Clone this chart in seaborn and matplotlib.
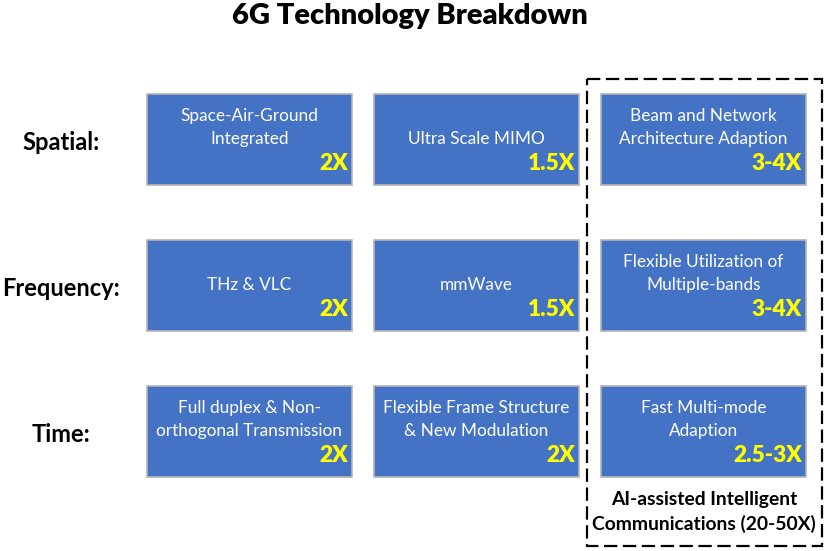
import matplotlib
matplotlib.use("Agg")
import matplotlib.pyplot as plt
from matplotlib.patches import Rectangle
import seaborn as sns

sns.set_theme(style="white")
plt.rcParams['font.family'] = ['Lato', 'DejaVu Sans']

title = "6G Technology Breakdown"
rows = ["Spatial:", "Frequency:", "Time:"]
texts = [
    ["Space-Air-Ground\nIntegrated", "Ultra Scale MIMO", "Beam and Network\nArchitecture Adaption"],
    ["THz & VLC", "mmWave", "Flexible Utilization of\nMultiple-bands"],
    ["Full duplex & Non-\northogonal Transmission", "Flexible Frame Structure\n& New Modulation", "Fast Multi-mode\nAdaption"],
]
gains = [
    ["2X", "1.5X", "3-4X"],
    ["2X", "1.5X", "3-4X"],
    ["2X", "2X", "2.5-3X"],
]
ai_label = "AI-assisted Intelligent\nCommunications (20-50X)"

W, H = 829, 551
fig = plt.figure(figsize=(W / 100, H / 100), dpi=100)
ax = fig.add_axes([0, 0, 1, 1])
ax.set_xlim(0, W)
ax.set_ylim(H, 0)
ax.axis("off")

col_x = [147, 374, 601]
row_y = [94, 240, 386]
bw, bh = 205, 91
blue = "#4472C4"

ax.text(410, 16, title, ha="center", va="center", fontsize=21, fontweight="heavy", color="black")

for r, lab in enumerate(rows):
    ax.text(61, row_y[r] + 48, lab, ha="center", va="center", fontsize=17, fontweight="bold", color="black")
    for c in range(3):
        x0, y0 = col_x[c], row_y[r]
        ax.add_patch(Rectangle((x0, y0), bw, bh, facecolor=blue, edgecolor="#B4B4B4", lw=1.2))
        lines = texts[r][c].split("\n")
        if len(lines) == 1:
            ax.text(x0 + bw / 2, y0 + 45, lines[0], ha="center", va="center", fontsize=12.4, color="white")
        else:
            ax.text(x0 + bw / 2, y0 + 22, lines[0], ha="center", va="center", fontsize=12.4, color="white")
            ax.text(x0 + bw / 2, y0 + 45, lines[1], ha="center", va="center", fontsize=12.4, color="white")
        ax.text(x0 + bw - 4, y0 + 70, gains[r][c], ha="right", va="center", fontsize=16.3,
                fontweight="heavy", color="#FFFF00")

ax.add_patch(Rectangle((587, 79), 235, 467, facecolor="none", edgecolor="black", lw=1.6,
                       linestyle=(0, (6, 2.5))))
l1, l2 = ai_label.split("\n")
ax.text(704, 500, l1, ha="center", va="center", fontsize=13.9, fontweight="bold", color="black")
ax.text(704, 524, l2, ha="center", va="center", fontsize=13.9, fontweight="bold", color="black")

fig.savefig("out.png", dpi=100)
